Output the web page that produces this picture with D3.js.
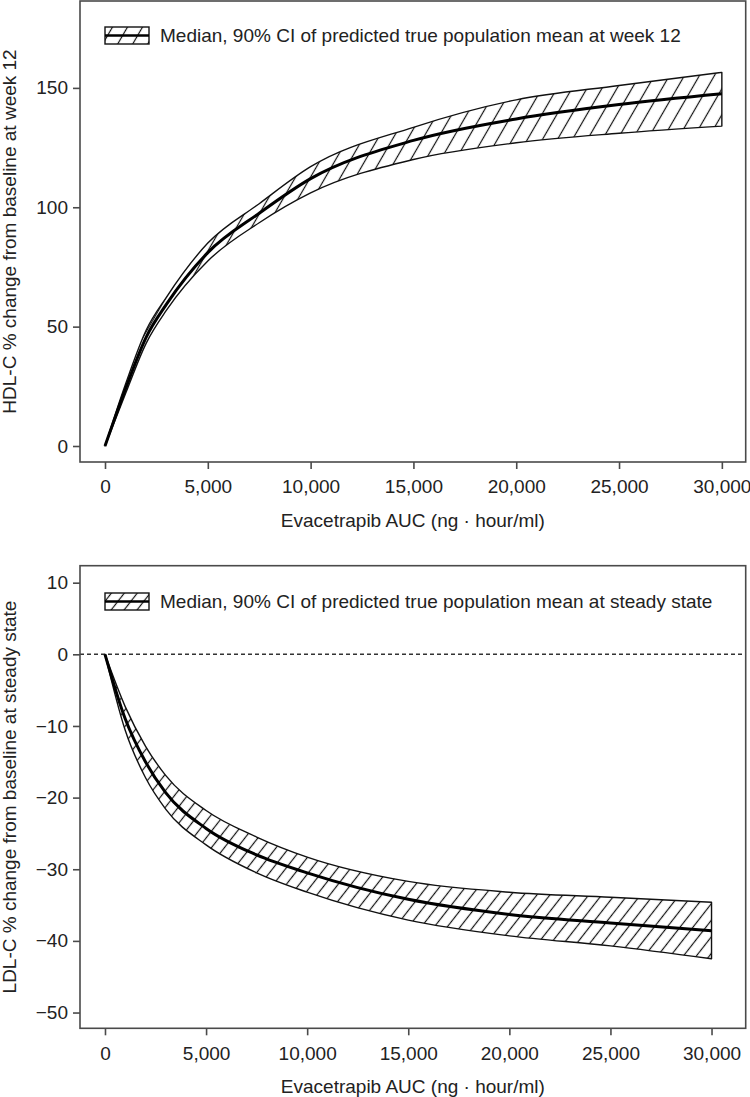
<!DOCTYPE html>
<html><head><meta charset="utf-8">
<script src="https://cdn.jsdelivr.net/npm/d3@7"></script>
<style>
html,body{margin:0;padding:0;background:#fff;}
svg{display:block;font-family:"Liberation Sans",Arial,Helvetica,sans-serif;}
</style></head>
<body>
<svg id="chart" width="750" height="1097"></svg>
<script>
// ---- data ----
const auc = [0, 1000, 2000, 3000, 5000, 7500, 10000, 15000, 20000, 25000, 30000];
const hdlMedian = [0, 24, 45.5, 59.5, 81, 97.5, 112, 128, 137, 143, 147.5];
const hdlLower  = [0, 22, 43, 57, 77.5, 93.5, 106, 120, 127, 131, 134];
const hdlUpper  = [0, 26, 48.5, 62.5, 85, 101.5, 117, 133.5, 145, 151, 156.5];

const ldlMedian = [0, -9, -15, -19.3, -24.3, -28, -30.5, -34.2, -36.3, -37.5, -38.6];
const ldlUpper  = [0, -7.3, -12.8, -16.9, -21.8, -25.5, -28.3, -31.7, -33.2, -33.9, -34.6];
const ldlLower  = [0, -10.6, -17.2, -21.6, -26.6, -30.5, -33.2, -37.1, -39.3, -40.7, -42.5];

const xTicks = [0, 5000, 10000, 15000, 20000, 25000, 30000];
const hdlYTicks = [0, 50, 100, 150];
const ldlYTicks = [10, 0, -10, -20, -30, -40, -50];

const xTitle = "Evacetrapib AUC (ng \u00B7 hour/ml)";
const hdlYTitle = "HDL-C % change from baseline at week 12";
const ldlYTitle = "LDL-C % change from baseline at steady state";
const hdlLegend = "Median, 90% CI of predicted true population mean at week 12";
const ldlLegend = "Median, 90% CI of predicted true population mean at steady state";

// ---- drawing ----
const svg = d3.select("#chart");
const defs = svg.append("defs");
const FS = 19, TXT = "#222", AX = "#4a4a4a";

function hatch(id, angle, spacing) {
  const p = defs.append("pattern").attr("id", id)
    .attr("patternUnits", "userSpaceOnUse")
    .attr("width", 20).attr("height", spacing)
    .attr("patternTransform", `rotate(${-angle})`);
  p.append("line").attr("x1", -1).attr("x2", 21)
    .attr("y1", spacing / 2).attr("y2", spacing / 2)
    .attr("stroke", "#111").attr("stroke-width", 1.2);
}
hatch("hatchTop", 60, 13);
hatch("hatchBot", 52, 10.2);

const panels = [
  { median: hdlMedian, lower: hdlLower, upper: hdlUpper, yTicks: hdlYTicks,
    yTitle: hdlYTitle, legend: hdlLegend, hatchId: "hatchTop",
    left: 80, right: 745.7, top: 1, bottom: 462,
    xDom: [-1216, 31160], yDom: [-6.7, 186.4], zero: false, legY: 27 },
  { median: ldlMedian, lower: ldlLower, upper: ldlUpper, yTicks: ldlYTicks,
    yTitle: ldlYTitle, legend: ldlLegend, hatchId: "hatchBot",
    left: 80, right: 745.7, top: 565.7, bottom: 1028.3,
    xDom: [-1236, 31690], yDom: [-52.2, 12.37], zero: true, legY: 593 }
];

panels.forEach(P => {
  const x = d3.scaleLinear().domain(P.xDom).range([P.left, P.right]);
  const y = d3.scaleLinear().domain(P.yDom).range([P.bottom, P.top]);
  const g = svg.append("g");
  const rows = auc.map((a, i) => ({ a, m: P.median[i], lo: P.lower[i], hi: P.upper[i] }));

  if (P.zero) {
    g.append("line").attr("x1", P.left).attr("x2", P.right)
      .attr("y1", y(0)).attr("y2", y(0))
      .attr("stroke", "#333").attr("stroke-width", 1.4)
      .attr("stroke-dasharray", "4,3");
  }

  const area = d3.area().curve(d3.curveMonotoneX)
    .x(d => x(d.a)).y0(d => y(d.lo)).y1(d => y(d.hi));
  g.append("path").datum(rows).attr("d", area)
    .attr("fill", `url(#${P.hatchId})`).attr("stroke", "#111")
    .attr("stroke-width", 1.4).attr("stroke-linejoin", "round");
  const line = d3.line().curve(d3.curveMonotoneX).x(d => x(d.a)).y(d => y(d.m));
  g.append("path").datum(rows).attr("d", line)
    .attr("fill", "none").attr("stroke", "#000").attr("stroke-width", 3)
    .attr("stroke-linejoin", "round");

  // box
  g.append("rect").attr("x", P.left).attr("y", P.top)
    .attr("width", P.right - P.left).attr("height", P.bottom - P.top)
    .attr("fill", "none").attr("stroke", AX).attr("stroke-width", 1.6);

  // axes
  const xa = g.append("g").attr("transform", `translate(0,${P.bottom})`)
    .call(d3.axisBottom(x).tickValues(xTicks).tickFormat(d3.format(",")).tickSize(7).tickPadding(11));
  const ya = g.append("g").attr("transform", `translate(${P.left},0)`)
    .call(d3.axisLeft(y).tickValues(P.yTicks).tickFormat(d3.format("d")).tickSize(7).tickPadding(5));
  [xa, ya].forEach(a => {
    a.select(".domain").remove();
    a.selectAll(".tick line").attr("stroke", AX).attr("stroke-width", 1.6);
    a.selectAll(".tick text").attr("fill", TXT).attr("font-size", FS)
      .attr("font-family", '"Liberation Sans",Arial,sans-serif');
  });

  // titles
  g.append("text").attr("x", (P.left + P.right) / 2).attr("y", P.bottom + 58)
    .attr("dy", "0.35em").attr("text-anchor", "middle")
    .attr("font-size", FS).attr("fill", TXT).text(xTitle);
  g.append("text")
    .attr("transform", `translate(9,${(P.top + P.bottom) / 2}) rotate(-90)`)
    .attr("dy", "0.35em").attr("text-anchor", "middle")
    .attr("font-size", FS).attr("fill", TXT).text(P.yTitle);

  // legend
  const lg = g.append("g").attr("transform", `translate(105,${P.legY})`);
  lg.append("rect").attr("width", 44).attr("height", 17)
    .attr("fill", `url(#${P.hatchId})`).attr("stroke", "#111").attr("stroke-width", 1.4);
  lg.append("line").attr("x1", 0).attr("x2", 44).attr("y1", 8.5).attr("y2", 8.5)
    .attr("stroke", "#000").attr("stroke-width", 2.5);
  lg.append("text").attr("x", 55).attr("y", 8.5).attr("dy", "0.35em")
    .attr("font-size", FS).attr("fill", TXT).text(P.legend);
});
</script>
</body></html>
